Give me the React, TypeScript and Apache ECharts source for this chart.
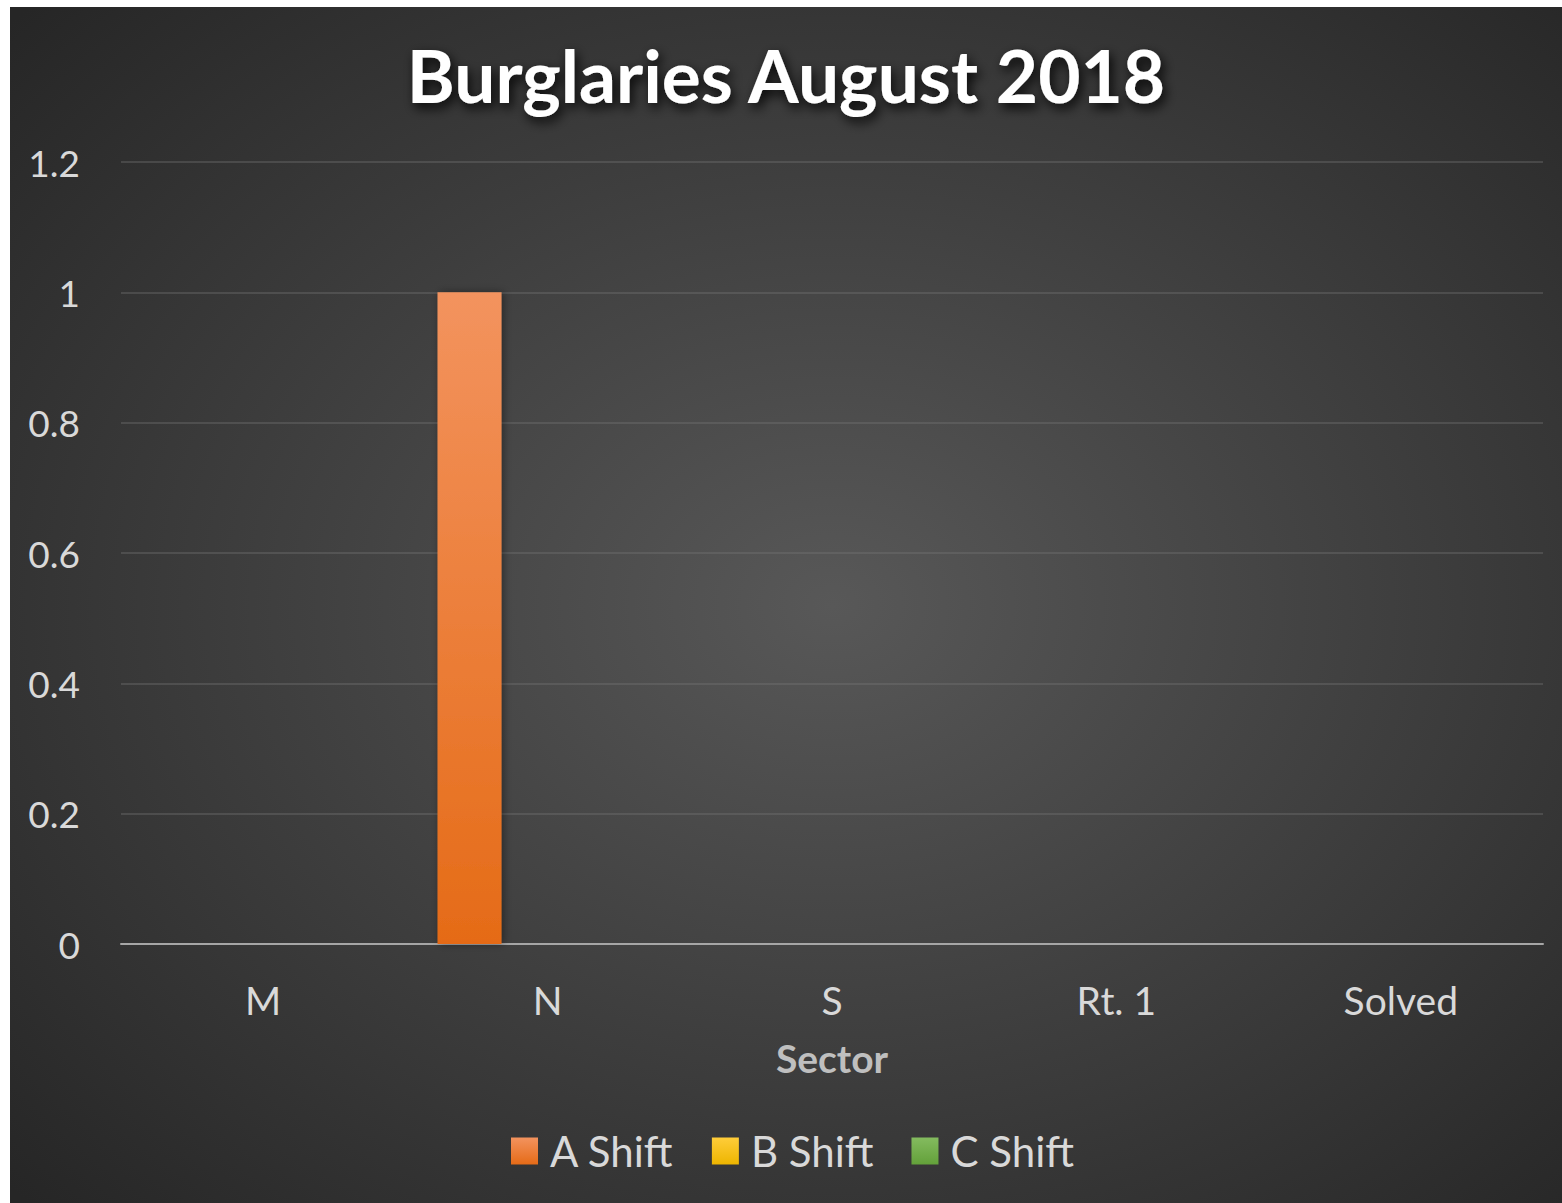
import React, { useEffect, useRef } from "react";
import * as echarts from "echarts";

const categories = ["M", "N", "S", "Rt. 1", "Solved"];
const aShift = [0, 1, 0, 0, 0];
const bShift = [0, 0, 0, 0, 0];
const cShift = [0, 0, 0, 0, 0];
const seriesNames = ["A Shift", "B Shift", "C Shift"];

const FONT = "Lato, 'Open Sans', sans-serif";

function grad(top: string, bottom: string) {
  return new echarts.graphic.LinearGradient(0, 0, 0, 1, [
    { offset: 0, color: top },
    { offset: 1, color: bottom },
  ]);
}

export default function App() {
  const ref = useRef<HTMLDivElement>(null);
  useEffect(() => {
    document.body.style.margin = "0";
    const chart = echarts.init(ref.current!, null, { renderer: "svg" });
    const colors = [
      grad("#f3935e", "#e56b17"),
      grad("#ffcd3a", "#edb500"),
      grad("#84bb5f", "#63a13a"),
    ];
    const data = [aShift, bShift, cShift];
    chart.setOption({
      animation: false,
      backgroundColor: {
        type: "radial",
        x: 0.53,
        y: 0.5,
        r: 0.72,
        colorStops: [
          { offset: 0, color: "#585858" },
          { offset: 1, color: "#262626" },
        ],
      },
      title: {
        text: "Burglaries August 2018",
        left: "center",
        top: 26,
        textStyle: {
          color: "#ffffff",
          fontFamily: FONT,
          fontWeight: "bold",
          fontSize: 73,
          textShadowColor: "rgba(0,0,0,0.9)",
          textShadowBlur: 12,
          textShadowOffsetX: 3,
          textShadowOffsetY: 5,
        },
      },
      grid: { left: 111, right: 19, top: 155, bottom: 259, containLabel: false },
      legend: {
        bottom: 26,
        left: 496,
        itemWidth: 27,
        itemHeight: 27,
        itemGap: 38,
        icon: "rect",
        textStyle: { color: "#d9d9d9", fontFamily: FONT, fontSize: 42, padding: [0, 0, 0, 7] },
        data: seriesNames,
      },
      xAxis: {
        type: "category",
        data: categories,
        name: "Sector",
        nameLocation: "middle",
        nameGap: 94,
        nameTextStyle: { color: "#bfbfbf", fontFamily: FONT, fontSize: 39, fontWeight: "bold" },
        axisLine: { lineStyle: { color: "#a6a6a6", width: 2 } },
        axisTick: { show: false },
        axisLabel: { color: "#d9d9d9", fontFamily: FONT, fontSize: 39, margin: 36 },
      },
      yAxis: {
        type: "value",
        min: 0,
        max: 1.2,
        interval: 0.2,
        axisLine: { show: false },
        axisTick: { show: false },
        splitLine: { lineStyle: { color: "rgba(120,120,120,0.35)", width: 2 } },
        axisLabel: {
          color: "#d9d9d9",
          fontFamily: FONT,
          fontSize: 37,
          margin: 41,
          formatter: (v: number) => String(Math.round(v * 10) / 10),
        },
      },
      series: seriesNames.map((name, i) => ({
        name,
        type: "bar",
        data: data[i],
        barWidth: 64,
        barGap: "22%",
        itemStyle: {
          color: colors[i],
          shadowColor: "rgba(0,0,0,0.4)",
          shadowBlur: 8,
          shadowOffsetX: 2,
        },
      })),
    });
    return () => chart.dispose();
  }, []);
  return (
    <div
      ref={ref}
      style={{ position: "absolute", left: 10, top: 7, width: 1552, height: 1196 }}
    />
  );
}
